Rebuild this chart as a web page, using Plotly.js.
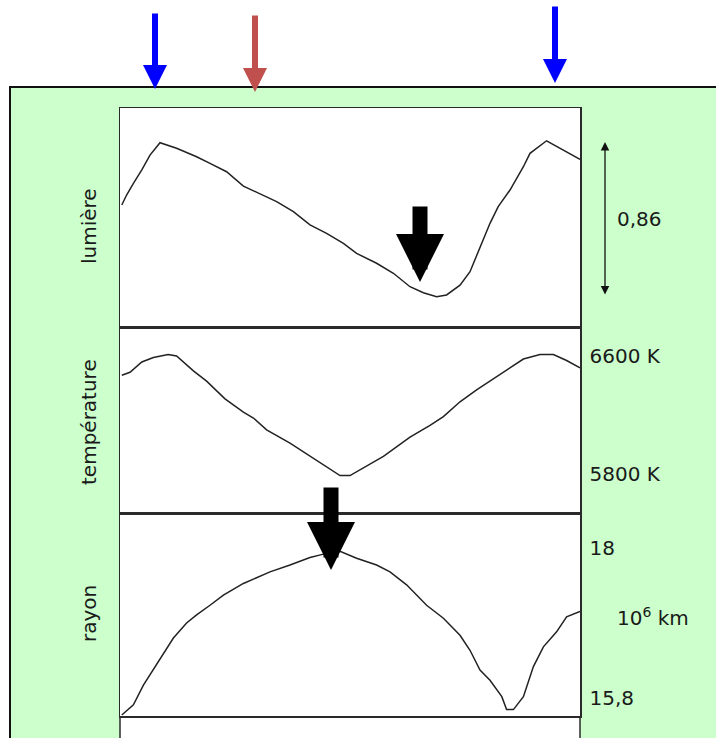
<!DOCTYPE html>
<html>
<head>
<meta charset="utf-8">
<script src="https://cdn.plot.ly/plotly-3.0.1.min.js"></script>
<style>html,body{margin:0;padding:0;background:#fff;}#chart{width:716px;height:738px;}</style>
</head>
<body>
<div id="chart"></div>
<script>
// ---- Data (phase of the pulsation cycle, 0 and 1 = maximum of light) ----
const phaseL = [-0.083,-0.071,-0.054,-0.033,-0.0125,0.0125,0.054,0.104,0.1375,0.179,0.221,0.271,0.304,0.346,0.3875,0.429,0.471,0.504,0.554,0.596,0.6375,0.671,0.704,0.729,0.7625,0.7875,0.8125,0.8375,0.858,0.8875,0.921,0.9375,0.979,1.021,1.0625];
const lumMag = [0.352,0.296,0.231,0.156,0.073,0.004,0.035,0.082,0.119,0.166,0.246,0.296,0.333,0.389,0.463,0.510,0.566,0.622,0.677,0.733,0.808,0.842,0.864,0.854,0.799,0.724,0.585,0.454,0.361,0.268,0.138,0.063,-0.007,0.045,0.097];

const phaseT = [-0.083,-0.0625,-0.033,-0.004,0.033,0.054,0.096,0.129,0.175,0.221,0.246,0.279,0.3375,0.3875,0.4125,0.4375,0.4625,0.4875,0.521,0.571,0.6375,0.6875,0.721,0.7625,0.804,0.8375,0.879,0.921,0.9625,0.996,1.029,1.0625];
const tempK = [6470,6490,6560,6590,6610,6600,6500,6430,6310,6220,6180,6100,6010,5920,5880,5830,5790,5790,5840,5920,6050,6130,6190,6290,6370,6430,6500,6580,6610,6610,6570,6520];

const phaseR = [-0.083,-0.054,-0.029,0.0125,0.046,0.079,0.104,0.1375,0.171,0.221,0.2875,0.3375,0.3875,0.421,0.4625,0.504,0.554,0.5875,0.629,0.679,0.721,0.7625,0.7875,0.8125,0.8375,0.867,0.879,0.896,0.921,0.946,0.971,1.004,1.029,1.0625];
const radiusMkm = [15.55,15.70,15.99,16.38,16.68,16.90,17.02,17.16,17.31,17.48,17.65,17.75,17.86,17.91,17.95,17.85,17.75,17.65,17.46,17.16,16.97,16.72,16.50,16.21,16.06,15.82,15.63,15.63,15.82,16.26,16.55,16.77,16.99,17.07];

const panelLabels = ['lumière','température','rayon'];
const lumAmplitude = 0.86;
const tempTicks = [5800, 6600];
const tempTickText = ['5800 K','6600 K'];
const radiusTicks = [15.8, 18];
const radiusTickText = ['15,8','18'];
const radiusUnit = '10<sup>6</sup> km';
const bluePhases = [0, 1];        // maxima of light
const redPhases = [0.25];
const lumMinPhase = 0.6625;       // black arrow, light minimum
const radiusMaxPhase = 0.44;      // black arrow, radius maximum

// ---- helpers ----
const W = 716, H = 738;
const px = v => v / W;
const py = v => 1 - v / H;
const FONT = 'DejaVu Sans';
const TXT = '#1a1a1a';
const FRAME = '#2a2a2a';

const lineStyle = {color:'#222222', width:1.5};
const traces = [
  {x: phaseL, y: lumMag, xaxis:'x', yaxis:'y', mode:'lines', line:lineStyle, hoverinfo:'skip'},
  {x: phaseT, y: tempK, xaxis:'x', yaxis:'y2', mode:'lines', line:lineStyle, hoverinfo:'skip'},
  {x: phaseR, y: radiusMkm, xaxis:'x', yaxis:'y3', mode:'lines', line:lineStyle, hoverinfo:'skip'}
];

const baseY = {
  showgrid:false, zeroline:false, showline:true, mirror:true,
  linecolor:FRAME, linewidth:1.5, ticks:'', fixedrange:true,
  tickfont:{family:FONT, size:20, color:TXT}
};

const layout = {
  width: W, height: H,
  margin: {l:0, r:0, t:0, b:0},
  paper_bgcolor: '#ffffff',
  plot_bgcolor: 'rgba(0,0,0,0)',
  showlegend: false,
  xaxis: {domain:[px(120), px(580)], range:[-0.0875, 1.0625], anchor:'y3',
          showgrid:false, zeroline:false, showticklabels:false, ticks:'',
          showline:true, mirror:'all', linecolor:FRAME, linewidth:1.5, fixedrange:true},
  yaxis: Object.assign({}, baseY, {domain:[py(327), py(108)], range:[1.033, -0.19], showticklabels:false, anchor:'x'}),
  yaxis2: Object.assign({}, baseY, {domain:[py(513), py(327)], range:[5536, 6797], side:'right', anchor:'x',
          tickvals: tempTicks, ticktext: tempTickText, ticklabelstandoff: 4}),
  yaxis3: Object.assign({}, baseY, {domain:[py(716), py(513)], range:[15.536, 18.513], side:'right', anchor:'x',
          tickvals: radiusTicks, ticktext: radiusTickText, ticklabelstandoff: 4}),
  shapes: [
    {type:'rect', xref:'paper', yref:'paper', x0:px(10), x1:1.02, y0:-0.02, y1:py(87),
     fillcolor:'#CCFFCC', line:{color:'#111111', width:2}, layer:'below'},
    {type:'rect', xref:'paper', yref:'paper', x0:px(120), x1:px(580), y0:-0.02, y1:py(108),
     fillcolor:'#ffffff', line:{width:0}, layer:'below'},
    {type:'line', xref:'paper', yref:'paper', x0:px(120), x1:px(120), y0:-0.02, y1:py(716),
     line:{color:FRAME, width:1.5}},
    {type:'line', xref:'paper', yref:'paper', x0:px(580), x1:px(580), y0:-0.02, y1:py(716),
     line:{color:FRAME, width:1.5}}
  ],
  annotations: []
};

// panel labels (rotated, left)
const labelY = [py(226), py(422), py(614)];
panelLabels.forEach((t, i) => {
  layout.annotations.push({xref:'paper', yref:'paper', x:px(89), y:labelY[i], text:t, textangle:-90,
    showarrow:false, xanchor:'center', yanchor:'middle', font:{family:FONT, size:20, color:TXT}});
});

// amplitude double arrow + label
layout.annotations.push({xref:'paper', yref:'y', x:px(605), y:0, axref:'pixel', ax:0, ayref:'y', ay:lumAmplitude,
  text:'', showarrow:true, arrowside:'end+start', arrowhead:2, arrowsize:1.3, arrowwidth:1.3, arrowcolor:'#111', standoff:0});
layout.annotations.push({xref:'paper', yref:'y', x:px(615), y:lumAmplitude/2, text:lumAmplitude.toFixed(2).replace('.', ','),
  showarrow:false, xanchor:'left', yanchor:'middle', font:{family:FONT, size:20, color:TXT}});

// radius unit
layout.annotations.push({xref:'paper', yref:'paper', x:px(615), y:py(617), text:radiusUnit,
  showarrow:false, xanchor:'left', yanchor:'middle', font:{family:FONT, size:20, color:TXT}});

// top arrows (blue: maxima, red)
function topArrow(ph, color, tipPx, topPx) {
  return {xref:'x', yref:'paper', x:ph, y:py(tipPx), axref:'pixel', ayref:'pixel', ax:0, ay:-(tipPx - topPx),
    text:'', showarrow:true, arrowhead:2, arrowsize:0.8, arrowwidth:6, arrowcolor:color, standoff:0};
}
layout.annotations.push(topArrow(bluePhases[0], '#0000FF', 89, 12));
layout.annotations.push(topArrow(redPhases[0], '#C0504D', 92, 14));
layout.annotations.push(topArrow(bluePhases[1], '#0000FF', 83, 5));

// big black arrows
function bigArrow(ph, tipPx, topPx) {
  return {xref:'x', yref:'paper', x:ph, y:py(tipPx), axref:'pixel', ayref:'pixel', ax:0, ay:-(tipPx - topPx),
    text:'', showarrow:true, arrowhead:2, arrowsize:0.64, arrowwidth:15, arrowcolor:'#000000', standoff:0};
}
layout.annotations.push(bigArrow(lumMinPhase, 282, 205));
layout.annotations.push(bigArrow(radiusMaxPhase, 570, 486));

Plotly.newPlot('chart', traces, layout, {displayModeBar:false, staticPlot:true});
</script>
</body>
</html>
